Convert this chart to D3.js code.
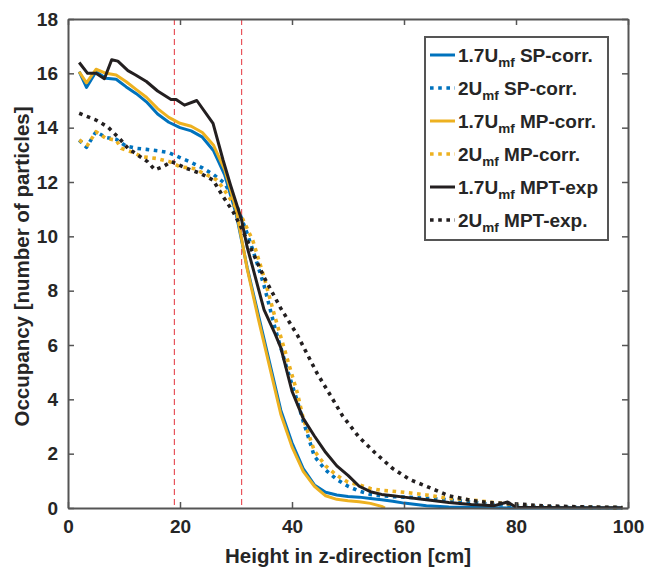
<!DOCTYPE html>
<html>
<head>
<meta charset="utf-8">
<script src="https://cdn.jsdelivr.net/npm/d3@7"></script>
<style>
  html, body { margin: 0; padding: 0; background: #fff; }
  svg { display: block; font-family: "Liberation Sans", Arial, sans-serif; font-weight: bold; }
</style>
</head>
<body>
<svg id="chart" width="650" height="574"></svg>
<script>
// ---------------- data ----------------
const xTicks = [0, 20, 40, 60, 80, 100];
const yTicks = [0, 2, 4, 6, 8, 10, 12, 14, 16, 18];
const refLines = [19, 31];

// 1.7Umf SP-corr. (blue solid)
const sp17X = [2, 3.3, 5, 6.8, 8.6, 10.4, 12.2, 14, 16, 18, 20, 22, 24, 26, 28, 30, 32, 34, 36, 38, 40, 42, 44, 46, 48, 50, 52, 54, 56, 58, 60, 64, 68, 72, 76, 80, 85, 90, 95, 99];
const sp17Y = [16.06, 15.48, 16.06, 15.82, 15.78, 15.5, 15.25, 14.95, 14.5, 14.2, 14.0, 13.88, 13.65, 13.15, 12.25, 10.85, 8.85, 7.1, 5.35, 3.6, 2.4, 1.45, 0.85, 0.58, 0.48, 0.42, 0.4, 0.35, 0.3, 0.25, 0.18, 0.08, 0.04, 0.02, 0.01, 0, 0, 0, 0, 0];
// 2Umf SP-corr. (blue dotted)
const sp2X = [2, 3.3, 5, 6.8, 8.6, 10.4, 12.2, 14, 16, 18, 20, 22, 24, 26, 28, 30, 32, 33, 35, 37, 39, 41, 42, 44, 46, 48, 50, 52, 54, 56, 58, 60, 64, 68, 72, 76, 80, 85, 90, 95, 99];
const sp2Y = [13.54, 13.28, 13.85, 13.64, 13.57, 13.32, 13.24, 13.2, 13.15, 13.08, 12.9, 12.72, 12.52, 12.27, 11.95, 11.2, 10.1, 9.5, 8.2, 6.6, 5.2, 3.9, 3.2, 1.9, 1.4, 1.05, 0.8, 0.62, 0.5, 0.45, 0.42, 0.4, 0.36, 0.3, 0.22, 0.13, 0.08, 0.04, 0.03, 0.02, 0.02];
// 1.7Umf MP-corr. (yellow solid)
const mp17X = [2, 3.3, 5, 6.8, 8.6, 10.4, 12.2, 14, 16, 18, 20, 22, 24, 26, 28, 30, 32, 34, 36, 38, 40, 42, 44, 46, 48, 50, 52, 54, 56, 56.6];
const mp17Y = [16.06, 15.65, 16.15, 16.0, 15.94, 15.69, 15.4, 15.12, 14.7, 14.38, 14.16, 14.05, 13.82, 13.35, 12.45, 11.0, 8.8, 6.95, 5.2, 3.45, 2.25, 1.35, 0.8, 0.45, 0.32, 0.27, 0.23, 0.17, 0.06, 0];
// 2Umf MP-corr. (yellow dotted)
const mp2X = [2, 3.5, 5, 6.8, 8.6, 9.5, 11.3, 13.3, 15.7, 18.1, 20, 22.4, 24.8, 26.6, 27.7, 29.5, 31, 33, 35, 37, 39, 41, 42, 44, 46, 48, 50, 52, 54, 56, 60, 64, 68, 72, 76, 80, 85, 90, 95, 99];
const mp2Y = [13.54, 13.36, 13.85, 13.6, 13.54, 13.24, 13.11, 12.93, 12.87, 12.75, 12.56, 12.5, 12.26, 12.07, 11.77, 11.21, 10.72, 9.85, 8.5, 7.0, 5.6, 4.2, 3.3, 2.1, 1.55, 1.2, 0.95, 0.85, 0.72, 0.65, 0.58, 0.48, 0.35, 0.3, 0.2, 0.12, 0.05, 0.03, 0.02, 0.01];
// 1.7Umf MPT-exp (black solid)
const exp17X = [2, 3.5, 5, 6.5, 7.8, 8.9, 10.7, 12, 14, 16, 18.4, 19.3, 20.8, 23, 25.9, 27.7, 29, 31, 32, 33, 35, 37, 38, 40, 42, 44, 46, 48, 50, 52, 54, 56, 58, 60, 64, 68, 72, 76, 78.5, 80, 85, 90, 95, 99];
const exp17Y = [16.4, 16.0, 16.0, 15.8, 16.5, 16.45, 16.1, 15.95, 15.7, 15.35, 15.04, 15.04, 14.83, 15.0, 14.16, 12.8, 11.9, 10.6, 9.6, 8.85, 7.3, 6.4, 5.9, 4.3, 3.3, 2.65, 2.05, 1.55, 1.2, 0.8, 0.6, 0.5, 0.45, 0.4, 0.3, 0.2, 0.13, 0.08, 0.22, 0.03, 0.02, 0.01, 0.01, 0.01];
// 2Umf MPT-exp. (black dotted)
const exp2X = [2, 5, 7.1, 9.2, 10.7, 12.4, 14.2, 15.5, 16.9, 18.5, 21.2, 23.6, 25.9, 27.7, 29.5, 31, 33, 35, 38, 41, 44.5, 47, 49, 52, 55, 58, 61, 64, 68, 72, 75, 80, 85, 90, 95, 99];
const exp2Y = [14.53, 14.28, 14.03, 13.6, 13.24, 13.0, 12.75, 12.45, 12.56, 12.75, 12.5, 12.32, 12.07, 11.46, 10.9, 10.3, 9.4, 8.5, 7.35, 6.35, 4.95, 4.1, 3.4, 2.6, 2.0, 1.45, 1.05, 0.8, 0.45, 0.28, 0.2, 0.15, 0.08, 0.05, 0.03, 0.02];

const seriesNames = ["1.7U|mf| SP-corr.", "2U|mf| SP-corr.", "1.7U|mf| MP-corr.", "2U|mf| MP-corr.", "1.7U|mf| MPT-exp", "2U|mf| MPT-exp."];
const seriesColors = ["#0072BD", "#0072BD", "#EDB120", "#EDB120", "#231f20", "#231f20"];
const seriesDotted = [false, true, false, true, false, true];
const seriesXs = [sp17X, sp2X, mp17X, mp2X, exp17X, exp2X];
const seriesYs = [sp17Y, sp2Y, mp17Y, mp2Y, exp17Y, exp2Y];

// ---------------- layout ----------------
const svg = d3.select("#chart");
const L = 68, R = 628, T = 19, B = 508;
const x = d3.scaleLinear().domain([0, 100]).range([L, R]);
const y = d3.scaleLinear().domain([0, 18]).range([B, T]);
const axisColor = "#555555";
const textColor = "#262626";

// reference dashed red lines (behind data)
svg.append("g").selectAll("line").data(refLines).join("line")
  .attr("x1", d => x(d)).attr("x2", d => x(d))
  .attr("y1", T).attr("y2", B)
  .attr("stroke", "#e8545c").attr("stroke-width", 1.2)
  .attr("stroke-dasharray", "6,4");

// data lines
const line = d3.line().x(d => x(d[0])).y(d => y(d[1]));
const gLines = svg.append("g");
seriesNames.forEach((name, i) => {
  const pts = seriesXs[i].map((xv, j) => [xv, seriesYs[i][j]]);
  gLines.append("path")
    .datum(pts)
    .attr("d", line)
    .attr("fill", "none")
    .attr("stroke", seriesColors[i])
    .attr("stroke-width", seriesDotted[i] ? 3.6 : 3)
    .attr("stroke-linejoin", "round")
    .attr("stroke-dasharray", seriesDotted[i] ? "3.6,4.6" : null);
});

// axes (box with inward ticks on all sides)
const tickLen = 6;
const axBottom = d3.axisBottom(x).tickValues(xTicks).tickSizeInner(-tickLen).tickSizeOuter(0).tickPadding(12);
const axTop = d3.axisTop(x).tickValues(xTicks).tickSizeInner(-tickLen).tickSizeOuter(0).tickFormat("");
const axLeft = d3.axisLeft(y).tickValues(yTicks).tickSizeInner(-tickLen).tickSizeOuter(0).tickPadding(10);
const axRight = d3.axisRight(y).tickValues(yTicks).tickSizeInner(-tickLen).tickSizeOuter(0).tickFormat("");

function styleAxis(g) {
  g.select(".domain").attr("stroke", axisColor).attr("stroke-width", 2);
  g.selectAll(".tick line").attr("stroke", axisColor).attr("stroke-width", 1.5);
  g.selectAll(".tick text").attr("fill", textColor)
    .style("font-size", "19px").style("font-weight", "bold")
    .style("font-family", "'Liberation Sans', Arial, sans-serif");
}
svg.append("g").attr("transform", `translate(0,${B})`).call(axBottom).call(styleAxis);
svg.append("g").attr("transform", `translate(0,${T})`).call(axTop).call(styleAxis);
svg.append("g").attr("transform", `translate(${L},0)`).call(axLeft).call(styleAxis);
svg.append("g").attr("transform", `translate(${R},0)`).call(axRight).call(styleAxis);

// axis titles
svg.append("text")
  .attr("x", (L + R) / 2).attr("y", 563)
  .attr("text-anchor", "middle")
  .attr("fill", textColor)
  .style("font-size", "20.5px")
  .text("Height in z-direction [cm]");
svg.append("text")
  .attr("transform", `translate(29,${(T + B) / 2 + 3}) rotate(-90)`)
  .attr("text-anchor", "middle")
  .attr("fill", textColor)
  .style("font-size", "20.5px")
  .text("Occupancy [number of particles]");

// legend
const leg = svg.append("g");
leg.append("rect")
  .attr("x", 425).attr("y", 37).attr("width", 183).attr("height", 203)
  .attr("fill", "#fff").attr("stroke", axisColor).attr("stroke-width", 2);
const rowY = [55, 88, 121, 154, 187, 220];
seriesNames.forEach((name, i) => {
  const ry = rowY[i];
  leg.append("line")
    .attr("x1", 430).attr("x2", 455).attr("y1", ry).attr("y2", ry)
    .attr("stroke", seriesColors[i])
    .attr("stroke-width", seriesDotted[i] ? 3.6 : 3)
    .attr("stroke-dasharray", seriesDotted[i] ? "3.6,4.6" : null);
  const parts = name.split("|");
  const t = leg.append("text")
    .attr("x", 458).attr("y", ry + 6.5)
    .attr("fill", textColor)
    .style("font-size", "19px");
  t.append("tspan").text(parts[0]);
  t.append("tspan").attr("dy", 5.5).style("font-size", "13.5px").text(parts[1]);
  t.append("tspan").attr("dy", -5.5).text(parts[2].replace(/^ /, "\u00a0"));
});
</script>
</body>
</html>
